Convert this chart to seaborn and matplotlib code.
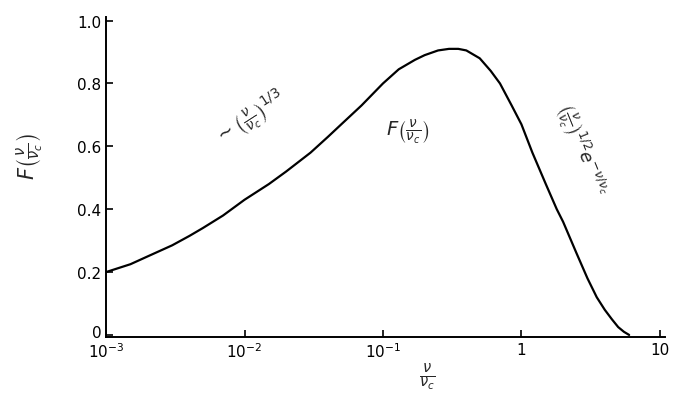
import numpy as np
import pandas as pd
import matplotlib
matplotlib.use('Agg')
import matplotlib.pyplot as plt
import matplotlib.transforms as mtransforms
import seaborn as sns

sns.set_style("ticks")
plt.rcParams['font.family'] = ['DejaVu Sans']
plt.rcParams['mathtext.fontset'] = 'dejavusans'

# values (x = nu / nu_c, F)
x_ratio = [0.001, 0.0015, 0.002, 0.003, 0.004, 0.005, 0.007, 0.01, 0.015, 0.02,
           0.03, 0.04, 0.05, 0.07, 0.1, 0.13, 0.17, 0.2, 0.25, 0.3,
           0.35, 0.4, 0.5, 0.6, 0.7, 0.85, 1.0, 1.2, 1.5, 1.8,
           2.0, 2.5, 3.0, 3.5, 4.0, 4.5, 5.0, 5.5, 6.0]
f_vals = [0.20, 0.225, 0.25, 0.285, 0.315, 0.34, 0.38, 0.43, 0.48, 0.52,
          0.58, 0.63, 0.67, 0.73, 0.80, 0.845, 0.875, 0.89, 0.905, 0.91,
          0.91, 0.905, 0.88, 0.84, 0.80, 0.73, 0.67, 0.58, 0.48, 0.40,
          0.36, 0.26, 0.18, 0.12, 0.08, 0.05, 0.025, 0.01, 0.0]

x_ticks = [1e-3, 1e-2, 1e-1, 1, 10]
x_ticklabels = [r'$10^{-3}$', r'$10^{-2}$', r'$10^{-1}$', '1', '10']
y_ticks = [0, 0.2, 0.4, 0.6, 0.8, 1.0]
y_ticklabels = ['0', '0.2', '0.4', '0.6', '0.8', '1.0']

df = pd.DataFrame({'x': x_ratio, 'F': f_vals})

fig = plt.figure(figsize=(6.8, 4.14), dpi=100)
ax = fig.add_axes([0.156, 0.184, 0.822, 0.773])
sns.lineplot(data=df, x='x', y='F', ax=ax, color='black', linewidth=1.6)

ax.set_xscale('log')
ax.set_xlim(1e-3, 10.9)
ax.set_ylim(-0.006, 1.012)
ax.set_xticks(x_ticks)
ax.set_xticklabels(x_ticklabels)
ax.minorticks_off()
ax.set_yticks(y_ticks)
ax.set_yticklabels(y_ticklabels)
ax.tick_params(direction='in', length=5, width=1.2, labelsize=11, colors='black')
sns.despine(ax=ax)
for s in ['left', 'bottom']:
    ax.spines[s].set_linewidth(1.4)
    ax.spines[s].set_color('black')

# lift the "0" label a little so it clears the 10^-3 label
zero_lab = ax.get_yticklabels()[0]
zero_lab.set_transform(zero_lab.get_transform() +
                       mtransforms.ScaledTranslation(0, 3 / 72, fig.dpi_scale_trans))

ax.set_xlabel(r'$\frac{\nu}{\nu_c}$', fontsize=15)
ax.xaxis.set_label_coords(0.574, -0.075)
ax.set_ylabel(r'$F\left(\frac{\nu}{\nu_c}\right)$', fontsize=15)
ax.yaxis.set_label_coords(-0.11, 0.565)

ax.text(0.011, 0.69, r'$\sim\left(\frac{\nu}{\nu_c}\right)^{1/3}$', fontsize=14,
        rotation=33, ha='center', va='center')
ax.text(0.15, 0.65, r'$F\left(\frac{\nu}{\nu_c}\right)$', fontsize=14,
        ha='center', va='center')
ax.text(2.7, 0.59, r'$\left(\frac{\nu}{\nu_c}\right)^{1/2}e^{-\nu/\nu_c}$', fontsize=13,
        rotation=-68, ha='center', va='center')

fig.savefig('out.png', dpi=100, facecolor='white')
